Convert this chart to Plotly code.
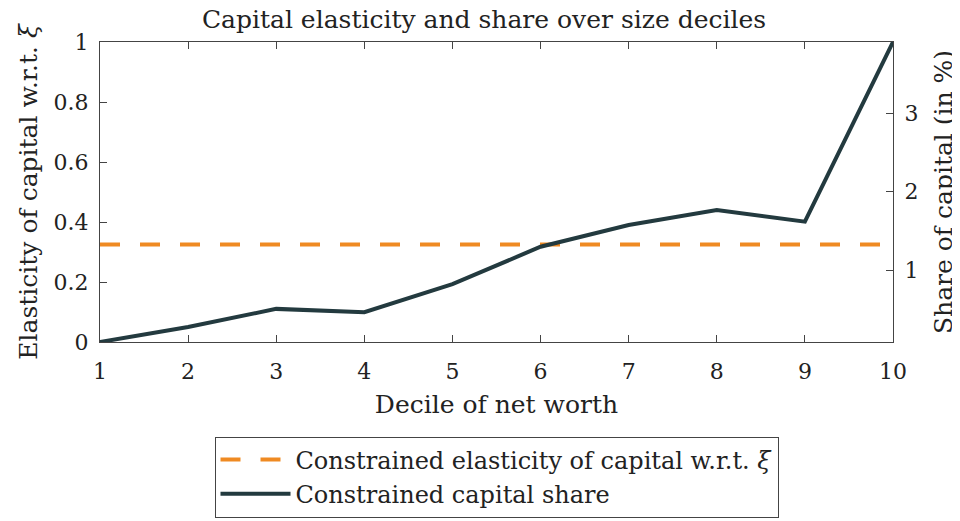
import plotly.graph_objects as go

# dados
deciles = [1, 2, 3, 4, 5, 6, 7, 8, 9, 10]
capital_share = [0.084, 0.276, 0.506, 0.464, 0.821, 1.298, 1.575, 1.767, 1.617, 3.907]
elasticity = [0.325] * 10

orange = "#EF8A22"
dark = "#233A3F"
serif = "DejaVu Serif"

fig = go.Figure()

fig.add_trace(go.Scatter(
    x=deciles, y=elasticity, mode="lines",
    name="Constrained elasticity of capital w.r.t. <i>ξ</i>",
    line=dict(color=orange, width=4, dash="20px,20px"),
    yaxis="y"
))

fig.add_trace(go.Scatter(
    x=deciles, y=capital_share, mode="lines",
    name="Constrained capital share",
    line=dict(color=dark, width=4),
    yaxis="y2"
))

axis_common = dict(
    showline=True, linecolor="#444", linewidth=1.2,
    ticks="inside", ticklen=7, tickcolor="#444",
    showgrid=False, zeroline=False, automargin=False,
    tickfont=dict(family=serif, size=22, color="#222"),
)
title_font = dict(family=serif, size=25, color="#222")

# a página tem margem de 8px no body, então a figura fica 8px menor
fig.update_layout(
    width=952, height=513,
    plot_bgcolor="white", paper_bgcolor="white",
    margin=dict(l=92, r=67, t=34, b=179, autoexpand=False),
    title=dict(text="Capital elasticity and share over size deciles",
               x=0.5, xanchor="center", y=0.978, yanchor="middle",
               font=dict(family=serif, size=25, color="#222")),
    xaxis=dict(range=[1, 10], tickvals=deciles, mirror="ticks",
               ticklabelstandoff=9,
               title=dict(text="Decile of net worth", standoff=12, font=title_font),
               **axis_common),
    yaxis=dict(range=[0, 1], tickvals=[0, 0.2, 0.4, 0.6, 0.8, 1],
               ticktext=["0", "0.2", "0.4", "0.6", "0.8", "1"],
               ticklabelstandoff=6,
               title=dict(text="Elasticity of capital w.r.t. <i>ξ</i>", standoff=8,
                          font=title_font),
               **axis_common),
    yaxis2=dict(range=[0.084, 3.907], tickvals=[1, 2, 3], overlaying="y", side="right",
                ticklabelstandoff=6,
                title=dict(text="Share of capital (in %)", standoff=16, font=title_font),
                **axis_common),
    legend=dict(x=0.5, xanchor="center", y=-0.585, yanchor="bottom",
                bordercolor="#444", borderwidth=1, bgcolor="white",
                font=dict(family=serif, size=24, color="#222"),
                itemwidth=70, tracegroupgap=0),
    showlegend=True,
)

fig.write_html("out.html")
